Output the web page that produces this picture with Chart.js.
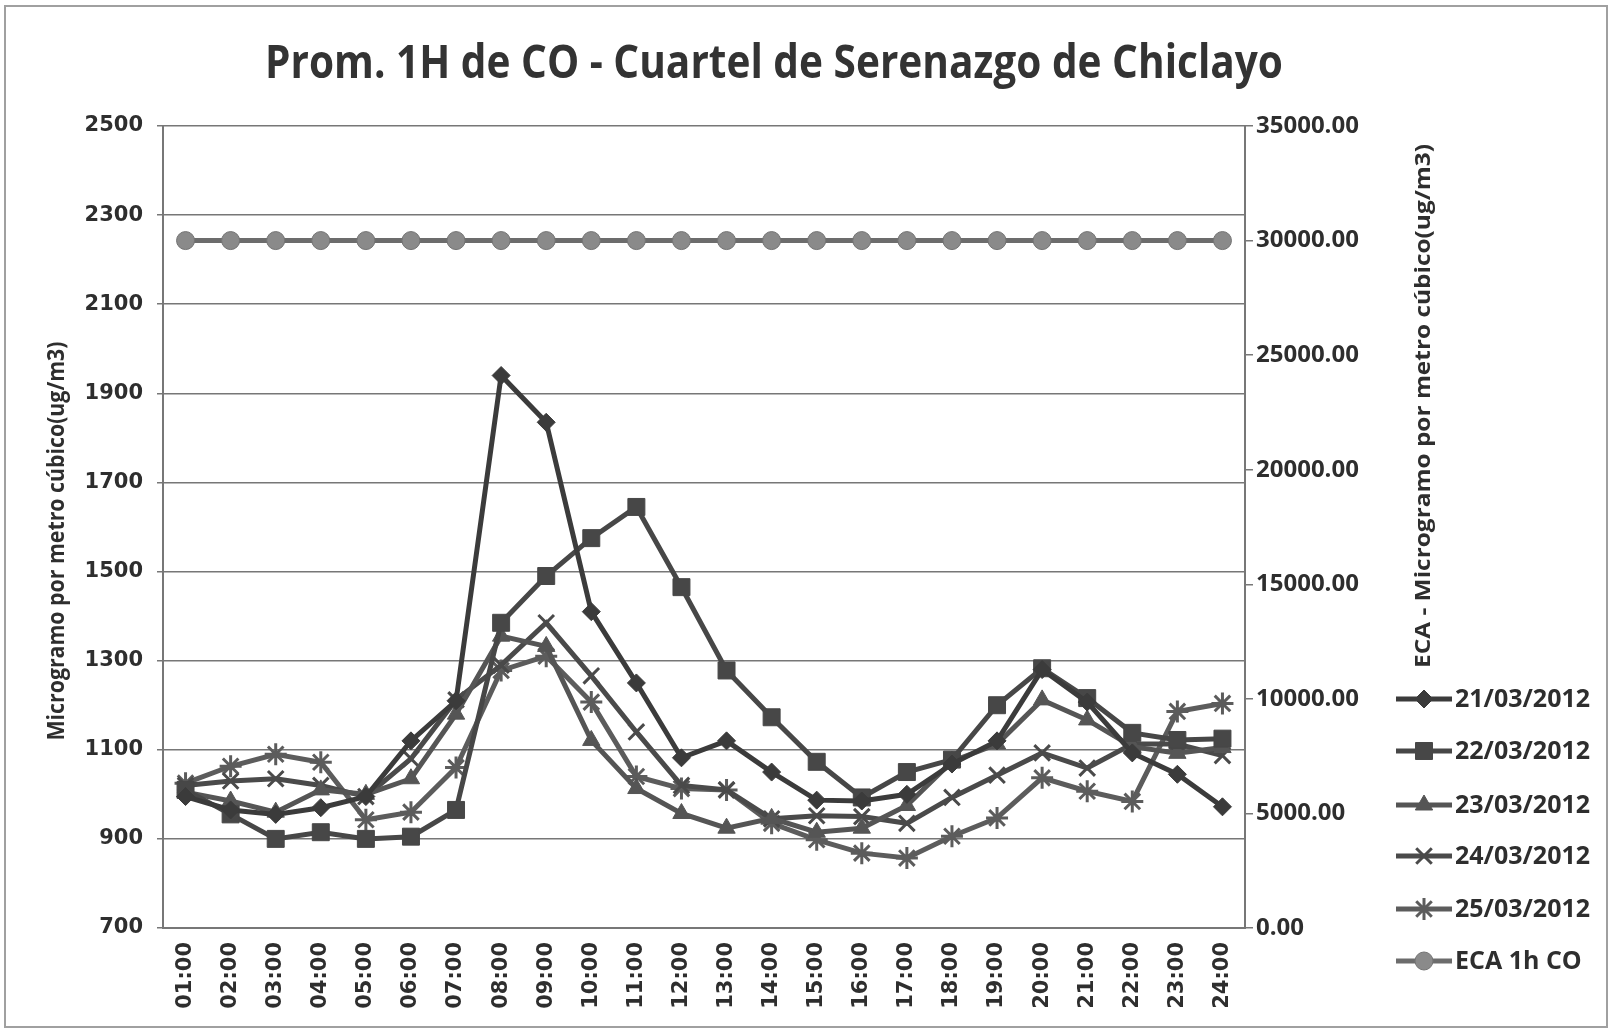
<!DOCTYPE html>
<html>
<head>
<meta charset="utf-8">
<script src="https://cdn.jsdelivr.net/npm/chart.js@4/dist/chart.umd.min.js"></script>
<style>
  html, body { margin: 0; padding: 0; background: #ffffff; }
  #wrap { width: 1612px; height: 1029px; position: relative; }
</style>
</head>
<body>
<div id="wrap"><canvas id="coChart"></canvas></div>
<script>
// hours on the x axis
const hours = ['01:00', '02:00', '03:00', '04:00', '05:00', '06:00', '07:00', '08:00',
    '09:00', '10:00', '11:00', '12:00', '13:00', '14:00', '15:00', '16:00',
    '17:00', '18:00', '19:00', '20:00', '21:00', '22:00', '23:00', '24:00'];

// CO hourly averages (ug/m3), left axis
const co21 = [995, 965, 955, 970, 995, 1120, 1210, 1940, 1835, 1410, 1250, 1082,
    1120, 1050, 987, 985, 1000, 1068, 1120, 1280, 1207, 1093, 1045, 972];
const co22 = [1010, 955, 900, 915, 900, 905, 965, 1385, 1490, 1575, 1645, 1465,
    1278, 1173, 1073, 993, 1050, 1078, 1200, 1283, 1216, 1138, 1122, 1125];
const co23 = [1005, 985, 960, 1010, 1000, 1035, 1180, 1355, 1332, 1121, 1013, 957,
    924, 946, 915, 924, 975, 1074, 1113, 1212, 1167, 1107, 1092, 1105];
const co24 = [1020, 1030, 1035, 1020, 995, 1080, 1212, 1290, 1385, 1266, 1140, 1020,
    1010, 945, 952, 950, 935, 993, 1043, 1093, 1059, 1113, 1113, 1087];
const co25 = [1025, 1063, 1090, 1072, 943, 960, 1060, 1278, 1310, 1207, 1040, 1013,
    1010, 935, 898, 868, 857, 906, 947, 1037, 1007, 984, 1186, 1204];

// ECA standard, right axis
const eca = [30000, 30000, 30000, 30000, 30000, 30000, 30000, 30000, 30000, 30000, 30000, 30000,
    30000, 30000, 30000, 30000, 30000, 30000, 30000, 30000, 30000, 30000, 30000, 30000];

const leftTicks = [700, 900, 1100, 1300, 1500, 1700, 1900, 2100, 2300, 2500];
const rightTicks = [0, 5000, 10000, 15000, 20000, 25000, 30000, 35000];

const titleText = 'Prom. 1H de CO - Cuartel de Serenazgo de Chiclayo';
const leftTitle = 'Microgramo por metro cúbico(ug/m3)';
const rightTitle = 'ECA - Microgramo por metro cúbico(ug/m3)';

function series(label, data, color, style, radius, axis) {
    return {
        label: label,
        data: data,
        yAxisID: axis || 'y',
        borderColor: color,
        backgroundColor: color,
        borderWidth: 5,
        tension: 0,
        pointStyle: style,
        pointRadius: radius,
        pointBorderWidth: (style === 'crossRot' || style === 'star') ? 3 : 1,
        pointBorderColor: color,
        pointBackgroundColor: color
    };
}

const datasets = [
    series('21/03/2012', co21, '#3b3b3b', 'rectRot', 9),
    series('22/03/2012', co22, '#474747', 'rect', 12),
    series('23/03/2012', co23, '#555555', 'triangle', 10),
    series('24/03/2012', co24, '#4a4a4a', 'crossRot', 11),
    series('25/03/2012', co25, '#5c5c5c', 'star', 11),
    series('ECA 1h CO', eca, '#6c6c6c', 'circle', 9, 'y1')
];
datasets[5].pointBackgroundColor = '#8a8a8a';
datasets[5].pointBorderColor = '#747474';

// text squeezed/stretched to a given length, rotated around its centre
function drawFitted(ctx, text, cx, cy, rot, targetW, font, color) {
    ctx.save();
    ctx.font = font;
    ctx.fillStyle = color;
    ctx.textAlign = 'center';
    ctx.textBaseline = 'middle';
    const w = ctx.measureText(text).width;
    ctx.translate(cx, cy);
    ctx.rotate(rot);
    ctx.scale(targetW / w, 1);
    ctx.fillText(text, 0, 0);
    ctx.restore();
}

const extras = {
    id: 'extras',
    beforeDraw(chart) {
        const ctx = chart.ctx;
        ctx.save();
        ctx.fillStyle = '#ffffff';
        ctx.fillRect(0, 0, chart.width, chart.height);
        ctx.strokeStyle = '#a0a0a0';
        ctx.lineWidth = 2;
        ctx.strokeRect(5, 6, chart.width - 10, chart.height - 8);
        ctx.restore();
    },
    afterDraw(chart) {
        const ctx = chart.ctx;
        drawFitted(ctx, titleText, 774, 65, 0, 1018, 'bold 46px "Open Sans"', '#333333');
        drawFitted(ctx, leftTitle, 57, 541, -Math.PI / 2, 399, 'bold 23px "Open Sans"', '#2e2e2e');
        drawFitted(ctx, rightTitle, 1424, 406, -Math.PI / 2, 524, 'bold 22px "Open Sans"', '#2e2e2e');

        // legend: short line with the marker in the middle
        const rows = [699, 751, 805, 856, 909, 961];
        chart.data.datasets.forEach((ds, i) => {
            const y = rows[i];
            ctx.save();
            ctx.strokeStyle = ds.borderColor;
            ctx.lineWidth = 5;
            ctx.beginPath();
            ctx.moveTo(1396, y);
            ctx.lineTo(1452, y);
            ctx.stroke();
            ctx.fillStyle = ds.pointBackgroundColor;
            ctx.strokeStyle = ds.pointBorderColor;
            ctx.lineWidth = ds.pointBorderWidth;
            Chart.helpers.drawPoint(ctx, {
                pointStyle: ds.pointStyle,
                radius: ds.pointRadius,
                rotation: 0,
                borderWidth: ds.pointBorderWidth
            }, 1424, y);
            ctx.fillStyle = '#2e2e2e';
            ctx.font = 'bold 25px "Open Sans"';
            ctx.textAlign = 'left';
            ctx.textBaseline = 'middle';
            ctx.fillText(ds.label, 1455, y + 1);
            ctx.restore();
        });
    }
};

new Chart(document.getElementById('coChart'), {
    type: 'line',
    data: {
        labels: hours,
        datasets: datasets
    },
    options: {
        responsive: true,
        maintainAspectRatio: false,
        animation: false,
        layout: {
            padding: { left: 0, right: 237, top: 126, bottom: 0 }
        },
        plugins: {
            legend: { display: false },
            title: { display: false },
            tooltip: { enabled: false }
        },
        scales: {
            x: {
                offset: true,
                grid: { display: false },
                border: { display: true, color: '#777777', width: 2 },
                afterFit: (s) => { s.height = 101; },
                ticks: {
                    autoSkip: false,
                    minRotation: 90,
                    maxRotation: 90,
                    padding: 6,
                    color: '#2e2e2e',
                    font: { family: 'DejaVu Sans', weight: 'bold', size: 21 }
                }
            },
            y: {
                position: 'left',
                min: 700,
                max: 2500,
                afterFit: (s) => { s.width = 163; },
                afterBuildTicks: (s) => { s.ticks = leftTicks.map(v => ({ value: v })); },
                grid: { color: '#777777', lineWidth: 1.5, tickLength: 6 },
                border: { display: true, color: '#777777', width: 2 },
                ticks: {
                    padding: 14,
                    color: '#2e2e2e',
                    font: { family: 'DejaVu Sans', weight: 'bold', size: 21 },
                    callback: (v) => String(v)
                }
            },
            y1: {
                position: 'right',
                min: 0,
                max: 35000,
                afterFit: (s) => { s.width = 130; },
                afterBuildTicks: (s) => { s.ticks = rightTicks.map(v => ({ value: v })); },
                grid: { drawOnChartArea: false, color: '#777777', lineWidth: 1.5, tickLength: 8 },
                border: { display: true, color: '#777777', width: 2 },
                ticks: {
                    padding: 3,
                    color: '#2e2e2e',
                    font: { family: 'Open Sans', weight: 'bold', size: 24 },
                    callback: (v) => Number(v).toFixed(2)
                }
            }
        }
    },
    plugins: [extras]
});
</script>
</body>
</html>
